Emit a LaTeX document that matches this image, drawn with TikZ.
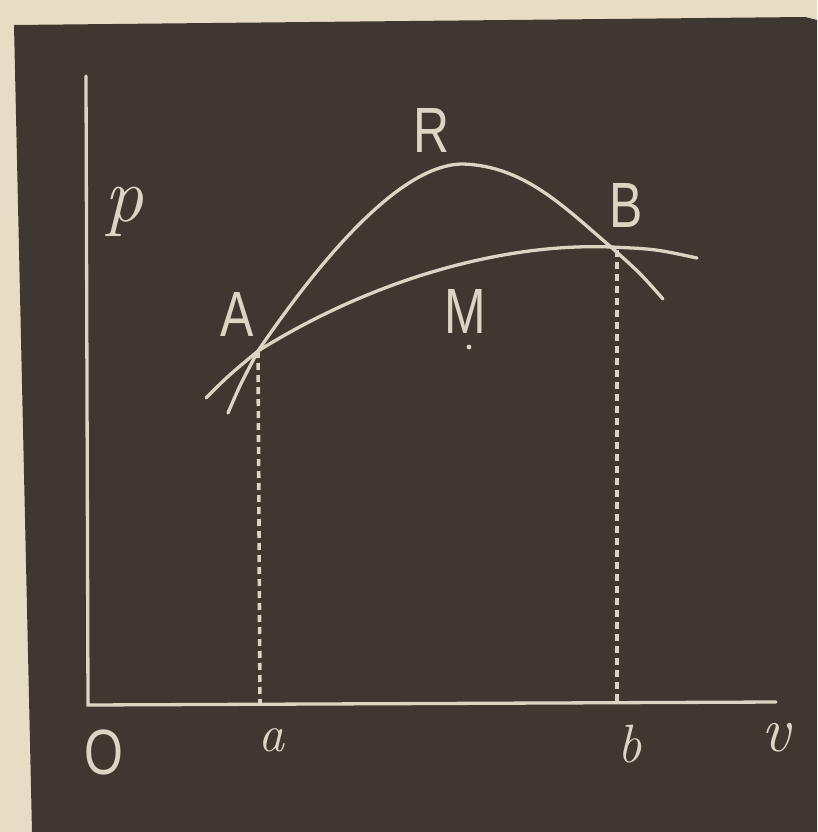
\documentclass[tikz,border=0pt]{standalone}
\usepackage{fontspec}
\newfontfamily\capfont[FakeStretch=0.78]{Liberation Sans}
\definecolor{paper}{HTML}{E8DCC4}
\definecolor{board}{HTML}{3E3831}
\definecolor{chalk}{HTML}{DCD5C3}
\begin{document}
\begin{tikzpicture}[x=1pt,y=-1pt,
  chalkline/.style={draw=chalk,line width=3.3pt,line cap=round},
  dropline/.style={draw=chalk,line width=3.6pt,dash pattern=on 7pt off 5pt},
  caplabel/.style={text=chalk,font=\capfont\fontsize{64}{64}\selectfont,inner sep=0pt},
  itlabel/.style={text=chalk,inner sep=0pt}]
\useasboundingbox (0,0) rectangle (817,832);
\fill[paper] (0,0) rectangle (817,832);
\fill[board] (14,25) -- (805,17) -- (817,20) -- (817,832) -- (32,832) -- cycle;
% named points
\coordinate (top) at (86,76);
\coordinate (O) at (88,705);
\coordinate (vend) at (776,702);
\coordinate (A) at (258,351);
\coordinate (B) at (611,247);
\coordinate (Bf) at (617,250);
\coordinate (a) at (260,704);
\coordinate (b) at (617,703);
\coordinate (Rtop) at (463,164);
\coordinate (Rs) at (228,413);
\coordinate (Re) at (663,299);
\coordinate (Ms) at (206,398);
\coordinate (Me) at (697,258);
% axes
\draw[chalkline] (top) -- (O) -- (vend);
% ordinates
\draw[dropline] (A) -- (a);
\draw[dropline] (Bf) -- (b);
% curve R
\draw[chalkline] (Rs) .. controls (240,385) .. (A)
  .. controls (320,260) and (400,164) .. (Rtop)
  .. controls (525,166) and (565,208) .. (B)
  .. controls (640,273) .. (Re);
% curve M
\draw[chalkline] (Ms) .. controls (228,376) .. (A)
  .. controls (380,275) and (510,243) .. (B)
  .. controls (655,249) .. (Me);
\fill[chalk] (469,347) circle (2.4pt);
% labels
\node[caplabel] (Rl) at (432,130) {R};
\node[caplabel] (Bl) at (626,205) {B};
\node[caplabel] (Al) at (237,314) {A};
\node[caplabel] (Ml) at (465,311) {M};
\node[caplabel] (Ol) at (104,752) {O};
\node[itlabel,font=\itshape\fontsize{78}{78}\selectfont] (pl) at (124,212) {p};
\node[itlabel,font=\itshape\fontsize{52}{52}\selectfont] (al) at (271,740) {a};
\node[itlabel,font=\itshape\fontsize{54}{54}\selectfont] (bl) at (630,744) {b};
\node[itlabel,font=\itshape\fontsize{64}{64}\selectfont] (vl) at (776,738) {v};
\end{tikzpicture}
\end{document}
